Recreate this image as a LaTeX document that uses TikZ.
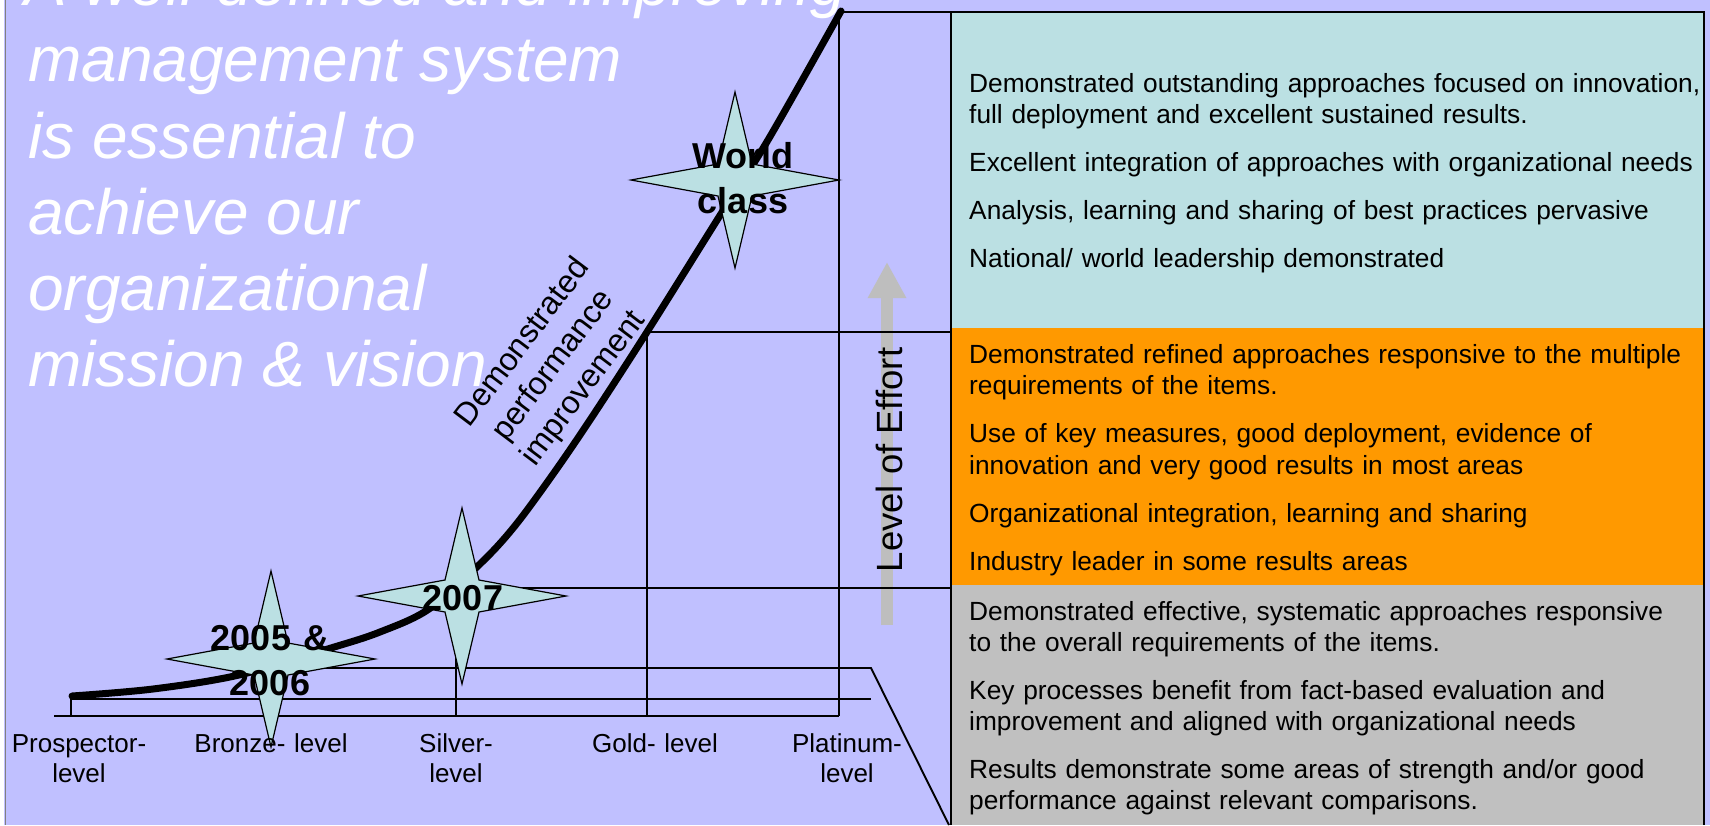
\documentclass[tikz,border=0pt]{standalone}
\usepackage{fontspec}
\setmainfont{Liberation Sans}
\usetikzlibrary{arrows.meta}

\definecolor{lavender}{RGB}{192,192,255}
\definecolor{paleteal}{RGB}{187,224,227}
\definecolor{tierorange}{RGB}{255,153,0}
\definecolor{tiergray}{RGB}{192,192,192}
\definecolor{effortgray}{RGB}{190,190,190}
\definecolor{edgegray}{RGB}{128,128,128}

% four-pointed award star centred on a named coordinate
\newcommand{\awardstar}[1]{%
  \begin{scope}[shift={(#1)}]
    \draw[starline] (-104,0) -- (-17,-16) -- (0,-88) -- (17,-16) -- (104,0)
      -- (17,16) -- (0,88) -- (-17,16) -- cycle;
  \end{scope}}

\begin{document}
\begin{tikzpicture}[x=1pt,y=-1pt,
  gridline/.style={draw=black,line width=1.9pt},
  growth/.style={draw=black,line width=7pt,line cap=round,line join=round},
  starline/.style={draw=black,line width=1.2pt,fill=paleteal,line join=miter},
  starlabel/.style={font=\bfseries\fontsize{36}{45}\selectfont,text width=160pt,
    align=center,inner sep=0pt,anchor=base},
  titleline/.style={text=white,font=\itshape\fontsize{64}{76}\selectfont,
    inner sep=0pt,anchor=base west},
  levellabel/.style={font=\fontsize{26}{30}\selectfont,text width=170pt,
    align=center,inner sep=0pt,anchor=base},
  tiertext/.style={font=\fontsize{26.3}{31.5}\selectfont,text width=760pt,
    align=left,inner sep=0pt,anchor=base west},
  slanted/.style={font=\fontsize{32}{38}\selectfont,text width=260pt,
    align=center,inner sep=0pt,anchor=base,rotate=53}]

\useasboundingbox (0,0) rectangle (1710,825);

% page ground
\fill[lavender] (0,0) rectangle (1710,825);
\fill[white] (0,0) rectangle (4,825);
\draw[edgegray,line width=1.5pt] (5.5,0) -- (5.5,825);

% tier panels
\fill[paleteal] (951,12) rectangle (1704,328);
\fill[tierorange] (951,328) rectangle (1704,585);
\fill[tiergray] (951,585) rectangle (1704,825);

% effort arrow
\coordinate (effortfoot) at (887,625);
\coordinate (efforthead) at (887,262);
\draw[effortgray,line width=12pt,-{Triangle[width=36pt,length=36pt]}]
  (effortfoot) -- (efforthead);

% staircase of levels
\coordinate (axL) at (54,716);
\coordinate (axR) at (839,716);
\coordinate (prosTop) at (71,699);
\coordinate (prosBot) at (71,716);
\coordinate (rail) at (871,699);
\coordinate (bronzeL) at (271,668);
\coordinate (bronzeR) at (871,668);
\coordinate (bronzeFoot) at (949,825);
\coordinate (silverBot) at (456,716);
\coordinate (silverTop) at (456,588);
\coordinate (silverR) at (951,588);
\coordinate (goldBot) at (647,716);
\coordinate (goldTop) at (647,332);
\coordinate (goldR) at (951,332);
\coordinate (platBot) at (839,716);
\coordinate (platTop) at (839,12);
\coordinate (frameTR) at (1704,12);
\coordinate (frameBR) at (1704,825);
\coordinate (panelTL) at (951,12);
\coordinate (panelBL) at (951,825);

\draw[gridline] (axL) -- (axR);
\draw[gridline] (prosBot) -- (prosTop) -- (rail);
\draw[gridline] (bronzeL) -- (bronzeR) -- (bronzeFoot);
\draw[gridline] (silverBot) -- (silverTop) -- (silverR);
\draw[gridline] (goldBot) -- (goldTop) -- (goldR);
\draw[gridline] (platBot) -- (platTop) -- (frameTR) -- (frameBR);
\draw[gridline] (panelTL) -- (panelBL);

% performance curve
\coordinate (curvestart) at (72,696);
\coordinate (curveend) at (841,11);
\draw[growth] plot[smooth,tension=0.55] coordinates {(curvestart) (153,689) (239,675)
  (331,648) (380,632) (429,609) (481,563) (514,527) (551,477) (590,420) (647,332)
  (719,217) (768,140) (curveend)};

% award stars
\coordinate (bronzestar) at (271,659);
\coordinate (silverstar) at (462,596);
\coordinate (worldstar) at (735,180);
\awardstar{bronzestar}
\awardstar{silverstar}
\awardstar{worldstar}
\node[starlabel] (lblbronze) at (270,650) {2005 \&\\2006};
\node[starlabel] (lblsilver) at (463,610) {2007};
\node[starlabel] (lblworld) at (743,168) {World\\class};

% headline
\node[titleline] (t1) at (24,5) {A well-defined and improving};
\node[titleline] (t2) at (28,81) {management system};
\node[titleline] (t3) at (28,158) {is essential to};
\node[titleline] (t4) at (28,234) {achieve our};
\node[titleline] (t5) at (28,310) {organizational};
\node[titleline] (t6) at (28,386) {mission \& vision};

% curve caption
\node[slanted] (perf) at (530,348) {Demonstrated\\performance\\improvement};

% effort caption
\node[rotate=90,anchor=base,inner sep=0pt,font=\fontsize{36.5}{40}\selectfont]
  (effort) at (902,460) {Level of Effort};

% level names
\node[levellabel] (lprospector) at (79,752) {Prospector-\\level};
\node[levellabel] (lbronze) at (271,752) {Bronze- level};
\node[levellabel] (lsilver) at (456,752) {Silver-\\level};
\node[levellabel] (lgold) at (655,752) {Gold- level};
\node[levellabel] (lplatinum) at (847,752) {Platinum-\\level};

% tier descriptions
\node[tiertext] (tealtext) at (969,92) {Demonstrated outstanding approaches focused on innovation,\\
full deployment and excellent sustained results.\\[16.5pt]
Excellent integration of approaches with organizational needs\\[16.5pt]
Analysis, learning and sharing of best practices pervasive\\[16.5pt]
National/ world leadership demonstrated};

\node[tiertext] (orangetext) at (969,363) {Demonstrated refined approaches responsive to the multiple\\
requirements of the items.\\[16.5pt]
Use of key measures, good deployment, evidence of\\
innovation and very good results in most areas\\[16.5pt]
Organizational integration, learning and sharing\\[16.5pt]
Industry leader in some results areas};

\node[tiertext] (graytext) at (969,620) {Demonstrated effective, systematic approaches responsive\\
to the overall requirements of the items.\\[16pt]
Key processes benefit from fact-based evaluation and\\
improvement and aligned with organizational needs\\[16pt]
Results demonstrate some areas of strength and/or good\\
performance against relevant comparisons.};

\end{tikzpicture}
\end{document}
